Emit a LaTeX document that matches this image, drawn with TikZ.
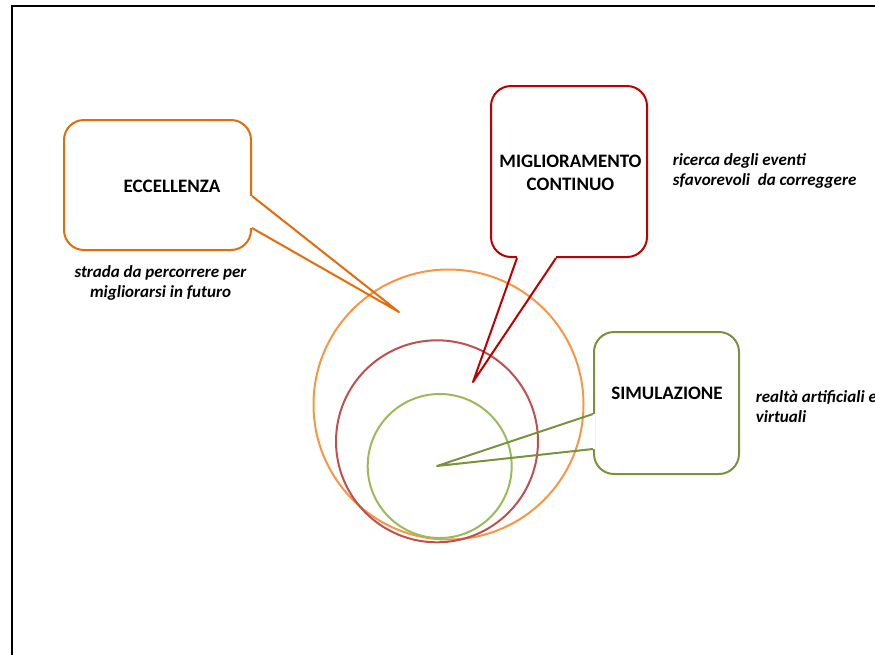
\documentclass[tikz,border=0pt]{standalone}
\usepackage{fontspec}
\setmainfont{Carlito}
\usepackage{xcolor}
\usetikzlibrary{calc}
\definecolor{eccline}{HTML}{E46C0A}
\definecolor{eccring}{HTML}{F79646}
\definecolor{migline}{HTML}{C00000}
\definecolor{migring}{HTML}{C0504D}
\definecolor{simline}{HTML}{77933C}
\definecolor{simring}{HTML}{9BBB59}
\tikzset{
  callbox/.style={draw=#1, rounded corners=20pt, line width=2pt, fill=white, inner sep=0pt},
  boxtext/.style={font=\bfseries\fontsize{19}{22.5}\selectfont, align=center, inner sep=0pt},
  notetext/.style={font=\bfseries\itshape\fontsize{17}{20}\selectfont, inner sep=0pt},
  ring/.style={line width=2pt},
  gap/.style={white, line width=3.5pt},
  pointer/.style={line width=2pt, line join=round},
}

\begin{document}
\begin{tikzpicture}[x=1pt,y=-1pt]
\clip (0,0) rectangle (875,654);
\useasboundingbox (0,0) rectangle (875,654);
% frame
\draw[line width=2pt] (12,670) -- (12,6) -- (890,6);
% circles
\draw[ring, eccring] (448.5,404.5) circle (135pt);
\draw[ring, migring] (437,441.3) circle (101pt);
\draw[ring, simring] (439.7,466) circle (72pt);
% boxes
\node[callbox=eccline, minimum width=187pt, minimum height=130pt] (ecc) at (157.5,185) {};
\node[callbox=migline, minimum width=156pt, minimum height=171pt] (mig) at (569,171.5) {};
\node[callbox=simline, minimum width=145pt, minimum height=142pt] (sim) at (666.5,403) {};
\node[boxtext] (ecctext) at (172,186) {ECCELLENZA};
\node[boxtext] (migtext) at (570.5,173) {MIGLIORAMENTO\\CONTINUO};
\node[boxtext] (simtext) at (667,393) {SIMULAZIONE};
% pointers
\coordinate (etip) at (399,312);
\coordinate (ea) at ($(ecc.east)+(0,11)$);
\coordinate (eb) at ($(ecc.east)+(0,43)$);
\draw[gap] (ea) -- (eb);
\draw[pointer, eccline] (ea) -- (etip) -- (eb);
\coordinate (mtip) at (473,382);
\coordinate (ma) at ($(mig.south)+(-52,0)$);
\coordinate (mb) at ($(mig.south)+(-13,0)$);
\draw[gap] (ma) -- (mb);
\draw[pointer, migline] (ma) -- (mtip) -- (mb);
\coordinate (stip) at (437,466);
\coordinate (sa) at ($(sim.west)+(0,11)$);
\coordinate (sb) at ($(sim.west)+(0,46)$);
\draw[gap] (sa) -- (sb);
\draw[pointer, simline] (sa) -- (stip) -- (sb);
% notes
\node[notetext, align=center] (eccnote) at (160.5,283) {strada da percorrere per\\migliorarsi in futuro};
\node[notetext, align=left, anchor=west] (mignote) at (672.7,171) {ricerca degli eventi\\sfavorevoli\ \ da correggere};
\node[notetext, align=left, anchor=west] (simnote) at (755.7,407) {realtà artificiali e\\virtuali};
\end{tikzpicture}
\end{document}
